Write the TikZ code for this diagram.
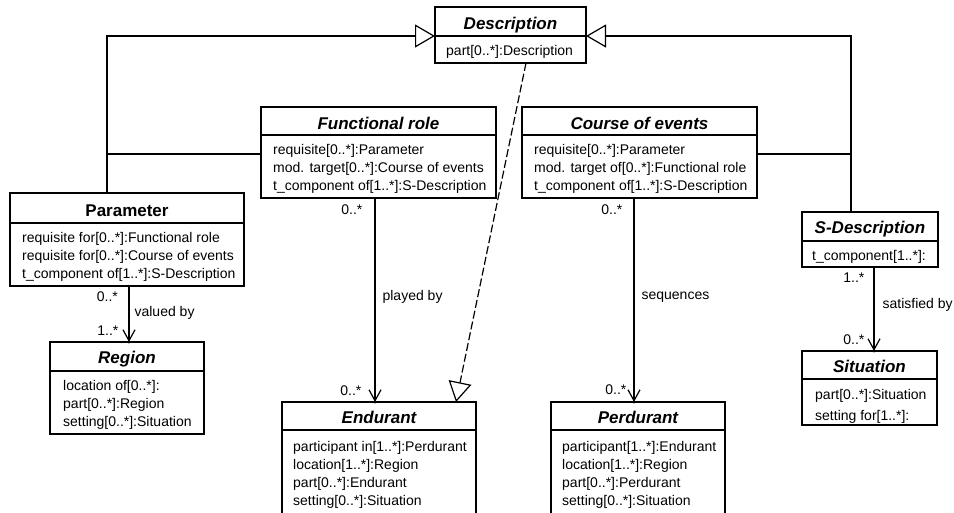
\documentclass[tikz,border=0pt]{standalone}
\usepackage{fontspec}
\setmainfont{Liberation Sans}
\usetikzlibrary{arrows.meta,calc}

\begin{document}
\begin{tikzpicture}[x=1pt,y=-1pt,
  box/.style={draw, line width=1.2pt, anchor=north west, inner sep=0pt, outer sep=0pt},
  ctitle/.style={font=\fontsize{17}{19}\selectfont\bfseries\itshape, inner sep=0pt, anchor=base},
  attrs/.style={font=\fontsize{14}{18}\selectfont, align=left, inner sep=0pt, anchor=west},
  mult/.style={font=\fontsize{14}{16}\selectfont, inner sep=0pt},
  gen/.style={line width=1.2pt, -{Triangle[open,length=20pt,width=23pt,fill=white]}},
  link/.style={line width=1.2pt},
  assoc/.style={line width=1.2pt, -{Straight Barb[length=11pt,width=12pt]}},
  real/.style={line width=1.2pt, dash pattern=on 8pt off 3pt, -{Triangle[open,length=20pt,width=23pt,fill=white]}},
]
\useasboundingbox[fill=white] (0,0) rectangle (954,512);

% ---- classes: header box, attribute box, title, attributes
\node[box, minimum width=151pt, minimum height=29pt] (descH) at (435,7) {};
\node[box, minimum width=151pt, minimum height=27pt] (descB) at (descH.south west) {};
\node[ctitle] (descT) at ([yshift=7pt]descH.south) {Description};
\node[attrs] (descA) at ([xshift=11pt,yshift=-2pt]descB.west) {part[0..*]:Description};

\node[box, minimum width=235pt, minimum height=28pt] (frH) at (261,107) {};
\node[box, minimum width=235pt, minimum height=63pt] (frB) at (frH.south west) {};
\node[ctitle] (frT) at ([yshift=6pt]frH.south) {Functional role};
\node[attrs] (frA) at ([xshift=12pt,yshift=-2pt]frB.west)
  {requisite[0..*]:Parameter\\mod. target[0..*]:Course of events\\t\_component of[1..*]:S-Description};

\node[box, minimum width=235pt, minimum height=28pt] (coH) at (522,107) {};
\node[box, minimum width=235pt, minimum height=63pt] (coB) at (coH.south west) {};
\node[ctitle] (coT) at ([yshift=6pt]coH.south) {Course of events};
\node[attrs] (coA) at ([xshift=12pt,yshift=-2pt]coB.west)
  {requisite[0..*]:Parameter\\mod. target of[0..*]:Functional role\\t\_component of[1..*]:S-Description};

\node[box, minimum width=234pt, minimum height=30pt] (paramH) at (10,193) {};
\node[box, minimum width=234pt, minimum height=63pt] (paramB) at (paramH.south west) {};
\node[ctitle, font=\fontsize{17}{19}\selectfont\bfseries] (paramT) at ([yshift=7pt]paramH.south) {Parameter};
\node[attrs] (paramA) at ([xshift=12pt,yshift=-2pt]paramB.west)
  {requisite for[0..*]:Functional role\\requisite for[0..*]:Course of events\\t\_component of[1..*]:S-Description};

\node[box, minimum width=154pt, minimum height=29pt] (regH) at (50,342) {};
\node[box, minimum width=154pt, minimum height=63pt] (regB) at (regH.south west) {};
\node[ctitle] (regT) at ([yshift=7.5pt]regH.south) {Region};
\node[attrs] (regA) at ([xshift=13pt,yshift=-2pt]regB.west)
  {location of[0..*]:\\part[0..*]:Region\\setting[0..*]:Situation};

\node[box, minimum width=194pt, minimum height=28pt] (endH) at (282,402) {};
\node[box, minimum width=194pt, minimum height=84pt] (endB) at (endH.south west) {};
\node[ctitle] (endT) at ([yshift=7pt]endH.south) {Endurant};
\node[attrs] (endA) at ([xshift=11pt,yshift=-2.5pt]endB.west)
  {participant in[1..*]:Perdurant\\location[1..*]:Region\\part[0..*]:Endurant\\setting[0..*]:Situation};

\node[box, minimum width=174pt, minimum height=28pt] (perH) at (551,402) {};
\node[box, minimum width=174pt, minimum height=84pt] (perB) at (perH.south west) {};
\node[ctitle] (perT) at ([yshift=7pt]perH.south) {Perdurant};
\node[attrs] (perA) at ([xshift=11pt,yshift=-2.5pt]perB.west)
  {participant[1..*]:Endurant\\location[1..*]:Region\\part[0..*]:Perdurant\\setting[0..*]:Situation};

\node[box, minimum width=136pt, minimum height=29pt] (sdH) at (802,212) {};
\node[box, minimum width=136pt, minimum height=26pt] (sdB) at (sdH.south west) {};
\node[ctitle] (sdT) at ([yshift=7.5pt]sdH.south) {S-Description};
\node[attrs] (sdA) at ([xshift=10pt,yshift=-3pt]sdB.west) {t\_component[1..*]:};

\node[box, minimum width=135pt, minimum height=28pt] (sitH) at (802,351) {};
\node[box, minimum width=135pt, minimum height=46pt] (sitB) at (sitH.south west) {};
\node[ctitle] (sitT) at ([yshift=7pt]sitH.south) {Situation};
\node[attrs, font=\fontsize{14}{21}\selectfont] (sitA) at ([xshift=13pt,yshift=-4pt]sitB.west)
  {part[0..*]:Situation\\setting for[1..*]:};

% ---- generalizations towards Description
\coordinate (gl) at ([xshift=-20pt]paramH.north);
\coordinate (gr) at ([xshift=-19pt]sdH.north);
\draw[gen] (gl) |- (descH.south west);
\draw[link] ([yshift=12.5pt]frB.west) -- ([yshift=12.5pt]frB.west -| gl);
\draw[gen] (gr) |- (descH.south east);
\draw[link] ([yshift=12.5pt]coB.east) -- ([yshift=12.5pt]coB.east -| gr);

% ---- Endurant realizes Description
\draw[real] ([xshift=15.5pt]descB.south) -- ([xshift=77pt]endH.north);

% ---- associations
\coordinate (a1) at ([xshift=2pt]paramB.south);
\coordinate (a1e) at (a1 |- regH.north);
\draw[assoc] (a1) -- (a1e)
  node[mult, anchor=east, pos=0, xshift=-10.5pt, yshift=-11pt] {0..*}
  node[mult, anchor=east, pos=1, xshift=-10pt, yshift=11pt] {1..*}
  node[mult, anchor=west, pos=0.5, xshift=5pt, yshift=1pt] {valued by};
\fill (a1e) circle (1.6pt);

\coordinate (a2) at ([xshift=-3.5pt]frB.south);
\coordinate (a2e) at (a2 |- endH.north);
\draw[assoc] (a2) -- (a2e)
  node[mult, anchor=east, pos=0, xshift=-12pt, yshift=-12pt] {0..*}
  node[mult, anchor=east, pos=1, xshift=-13pt, yshift=11pt] {0..*}
  node[mult, anchor=west, pos=0.5, xshift=7pt, yshift=3pt] {played by};
\fill (a2e) circle (1.6pt);

\coordinate (a3) at ([xshift=-5.5pt]coB.south);
\coordinate (a3e) at (a3 |- perH.north);
\draw[assoc] (a3) -- (a3e)
  node[mult, anchor=east, pos=0, xshift=-11pt, yshift=-12pt] {0..*}
  node[mult, anchor=east, pos=1, xshift=-7pt, yshift=12pt] {0..*}
  node[mult, anchor=west, pos=0.5, xshift=7pt, yshift=3pt] {sequences};
\fill (a3e) circle (1.6pt);

\coordinate (a4) at ([xshift=4pt]sdB.south);
\coordinate (a4e) at (a4 |- sitH.north);
\draw[assoc] (a4) -- (a4e)
  node[mult, anchor=east, pos=0, xshift=-9pt, yshift=-11pt] {1..*}
  node[mult, anchor=east, pos=1, xshift=-9pt, yshift=11pt] {0..*}
  node[mult, anchor=west, pos=0.5, xshift=8pt, yshift=4pt] {satisfied by};
\fill (a4e) circle (1.6pt);
\end{tikzpicture}
\end{document}
